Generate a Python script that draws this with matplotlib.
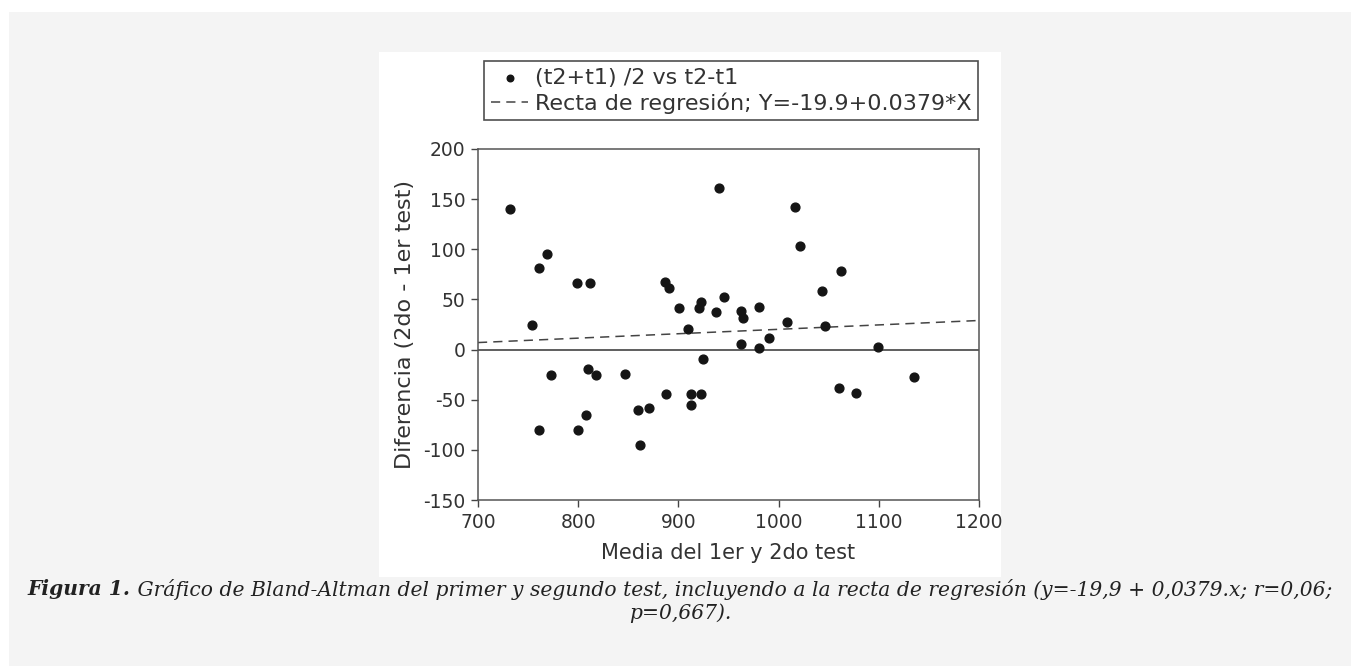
import matplotlib.pyplot as plt
from matplotlib.patches import Rectangle

plt.rcParams['axes.unicode_minus'] = False

# Bland-Altman points: mean of both tests vs difference (t2 - t1)
media = [732, 754, 761, 769, 773, 761, 799, 812, 810, 818, 808, 800,
         847, 860, 871, 887, 891, 901, 888, 910, 913, 913, 862, 941,
         1016, 1021, 1062, 1043, 946, 923, 921, 938, 962, 964, 980, 1008,
         1046, 962, 980, 990, 1099, 925, 923, 1135, 1060, 1077]
diferencia = [140, 25, 81, 95, -25, -80, 66, 66, -19, -25, -65, -80,
              -24, -60, -58, 67, 61, 41, -44, 21, -44, -55, -95, 161,
              142, 103, 78, 58, 52, 47, 41, 37, 38, 31, 42, 27,
              24, 6, 2, 12, 3, -9, -44, -27, -38, -43]

# regression line ends
recta_x = [700, 1200]
recta_y = [7, 29]

x_ticks = [700, 800, 900, 1000, 1100, 1200]
y_ticks = [-150, -100, -50, 0, 50, 100, 150, 200]

W, H = 1360, 666
fig = plt.figure(figsize=(W / 100, H / 100), dpi=100)
fig.patch.set_facecolor('white')

# gray page panel and white picture area (behind the axes)
fig.patches.append(Rectangle((9 / W, 0), 1342 / W, 654 / H, transform=fig.transFigure,
                             facecolor='#f4f4f4', edgecolor='none', zorder=-10))
fig.patches.append(Rectangle((379 / W, 1 - 577 / H), 622 / W, 525 / H, transform=fig.transFigure,
                             facecolor='white', edgecolor='none', zorder=-9))

left, right, top, bottom = 478, 979, 149, 500
ax = fig.add_axes([left / W, 1 - bottom / H, (right - left) / W, (bottom - top) / H])
ax.set_facecolor('white')

ax.scatter(media, diferencia, s=40, color='#151515', zorder=3,
           label='(t2+t1) /2 vs t2-t1')
ax.plot(recta_x, recta_y, color='#444444', lw=1.1, dashes=(6, 4),
        label='Recta de regresión; Y=-19.9+0.0379*X')
ax.axhline(0, color='#333333', lw=1.1)

ax.set_xlim(700, 1200)
ax.set_ylim(-150, 200)
ax.set_xticks(x_ticks)
ax.set_yticks(y_ticks)
ax.tick_params(labelsize=13.5, length=5, width=1, color='#444444',
               labelcolor='#333333', pad=4)
for s in ax.spines.values():
    s.set_color('#555555')
    s.set_linewidth(1.1)

ax.set_xlabel('Media del 1er y 2do test', fontsize=15, color='#333333', labelpad=8)
ax.set_ylabel('Diferencia (2do - 1er test)', fontsize=16, color='#333333', labelpad=6)

leg = fig.legend(loc='upper left', bbox_to_anchor=(484 / W, 1 - 61 / H),
                 fontsize=16, frameon=True, fancybox=False, borderaxespad=0,
                 handlelength=1.7, handletextpad=0.3, borderpad=0.3,
                 labelspacing=0.2, markerscale=0.75)
leg.get_frame().set_edgecolor('#222222')
leg.get_frame().set_linewidth(1.2)
for t in leg.get_texts():
    t.set_color('#333333')

# caption: bold "Figura 1." followed by italic text, centred
cap_font = dict(family='DejaVu Serif', style='italic', fontsize=14.6, color='#222222')
renderer = fig.canvas.get_renderer()
bold = fig.text(0, 1 - 589 / H, 'Figura 1.', weight='bold', va='center', **cap_font)
rest = fig.text(0, 1 - 589 / H,
                ' Gráfico de Bland-Altman del primer y segundo test, incluyendo a la recta '
                'de regresión (y=-19,9 + 0,0379.x; r=0,06;', va='center', **cap_font)
wb = bold.get_window_extent(renderer).width
wr = rest.get_window_extent(renderer).width
x0 = (W - wb - wr) / 2
bold.set_x(x0 / W)
rest.set_x((x0 + wb) / W)
fig.text(0.5, 1 - 613 / H, 'p=0,667).', ha='center', va='center', **cap_font)

fig.savefig('out.png', dpi=100, facecolor=fig.get_facecolor())
